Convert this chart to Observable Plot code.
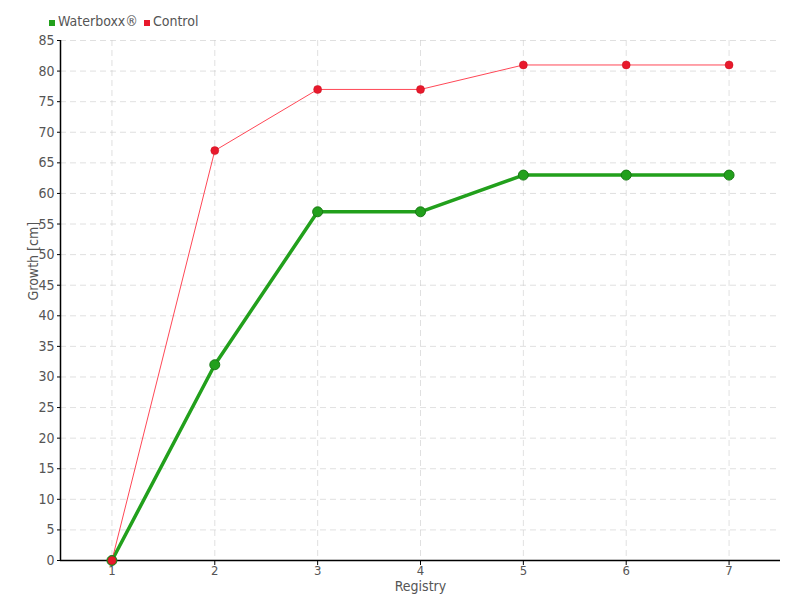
<!DOCTYPE html>
<html>
<head>
<meta charset="utf-8">
<script src="https://cdn.jsdelivr.net/npm/d3@7"></script>
<script src="https://cdn.jsdelivr.net/npm/@observablehq/plot@0.6"></script>
<style>
  body { margin: 0; background: #fff; font-family: "DejaVu Sans Condensed", "DejaVu Sans", sans-serif; }
  #wrap { position: relative; width: 800px; height: 600px; }
  #legend { position: absolute; left: 49px; top: 13px; font-size: 14px; color: #555; display: flex; align-items: center; gap: 6px; }
  #legend .sw { display: inline-block; width: 6px; height: 6px; margin-right: 3px; }
</style>
</head>
<body>
<div id="wrap">
  <div id="legend"></div>
  <div id="chart"></div>
</div>
<script>
const registry = [1, 2, 3, 4, 5, 6, 7];
const waterboxx = [0, 32, 57, 57, 63, 63, 63];
const control = [0, 67, 77, 77, 81, 81, 81];
const seriesNames = ["Waterboxx®", "Control"];
const seriesColors = ["#22a01c", "#e8192c"];
const yTicks = d3.range(0, 86, 5);

const wData = registry.map((r, i) => ({x: r, y: waterboxx[i]}));
const cData = registry.map((r, i) => ({x: r, y: control[i]}));

const legend = document.getElementById("legend");
seriesNames.forEach((n, i) => {
  const s = document.createElement("span");
  s.innerHTML = `<span class="sw" style="background:${seriesColors[i]}"></span>${n}`;
  legend.appendChild(s);
});

const chart = Plot.plot({
  width: 800,
  height: 600,
  marginLeft: 60,
  marginRight: 20,
  marginTop: 40,
  marginBottom: 40,
  style: { fontFamily: "'DejaVu Sans Condensed', 'DejaVu Sans', sans-serif", fontSize: "14px", color: "#555", background: "#fff" },
  x: { domain: [0.5, 7.5], label: null },
  y: { domain: [0, 85], label: null },
  marks: [
    Plot.gridX(registry, { stroke: "#ccc", strokeOpacity: 0.6, strokeDasharray: "6,4" }),
    Plot.gridY(yTicks, { stroke: "#ccc", strokeOpacity: 0.6, strokeDasharray: "6,4" }),
    Plot.axisX({ ticks: registry, tickFormat: d => String(d), tickSize: 5, tickPadding: 0, stroke: "#000", fill: "#555", fontSize: 13, label: null }),
    Plot.axisY({ ticks: yTicks, tickFormat: d => String(d), tickSize: 3, tickPadding: 3, stroke: "#000", fill: "#555", fontSize: 14, label: null }),
    Plot.ruleY([0], { stroke: "#000", strokeWidth: 1.5 }),
    Plot.ruleX([0.5], { stroke: "#000", strokeWidth: 1.5 }),
    Plot.text(["Registry"], { frameAnchor: "bottom", dy: 30, fill: "#555", fontSize: 14 }),
    Plot.text(["Growth [cm]"], { frameAnchor: "left", dx: -27, rotate: -90, fill: "#555", fontSize: 14 }),
    Plot.line(wData, { x: "x", y: "y", stroke: "#22a01c", strokeWidth: 3.5 }),
    Plot.line(cData, { x: "x", y: "y", stroke: "#ff3344", strokeWidth: 1, strokeOpacity: 0.9 }),
    Plot.dot(wData, { x: "x", y: "y", r: 5, fill: "#22a01c", stroke: "#1a7a16", strokeWidth: 1 }),
    Plot.dot(cData, { x: "x", y: "y", r: 4, fill: "#e8192c", stroke: "#c8101f", strokeWidth: 0.5 })
  ]
});
document.getElementById("chart").appendChild(chart);
</script>
</body>
</html>
